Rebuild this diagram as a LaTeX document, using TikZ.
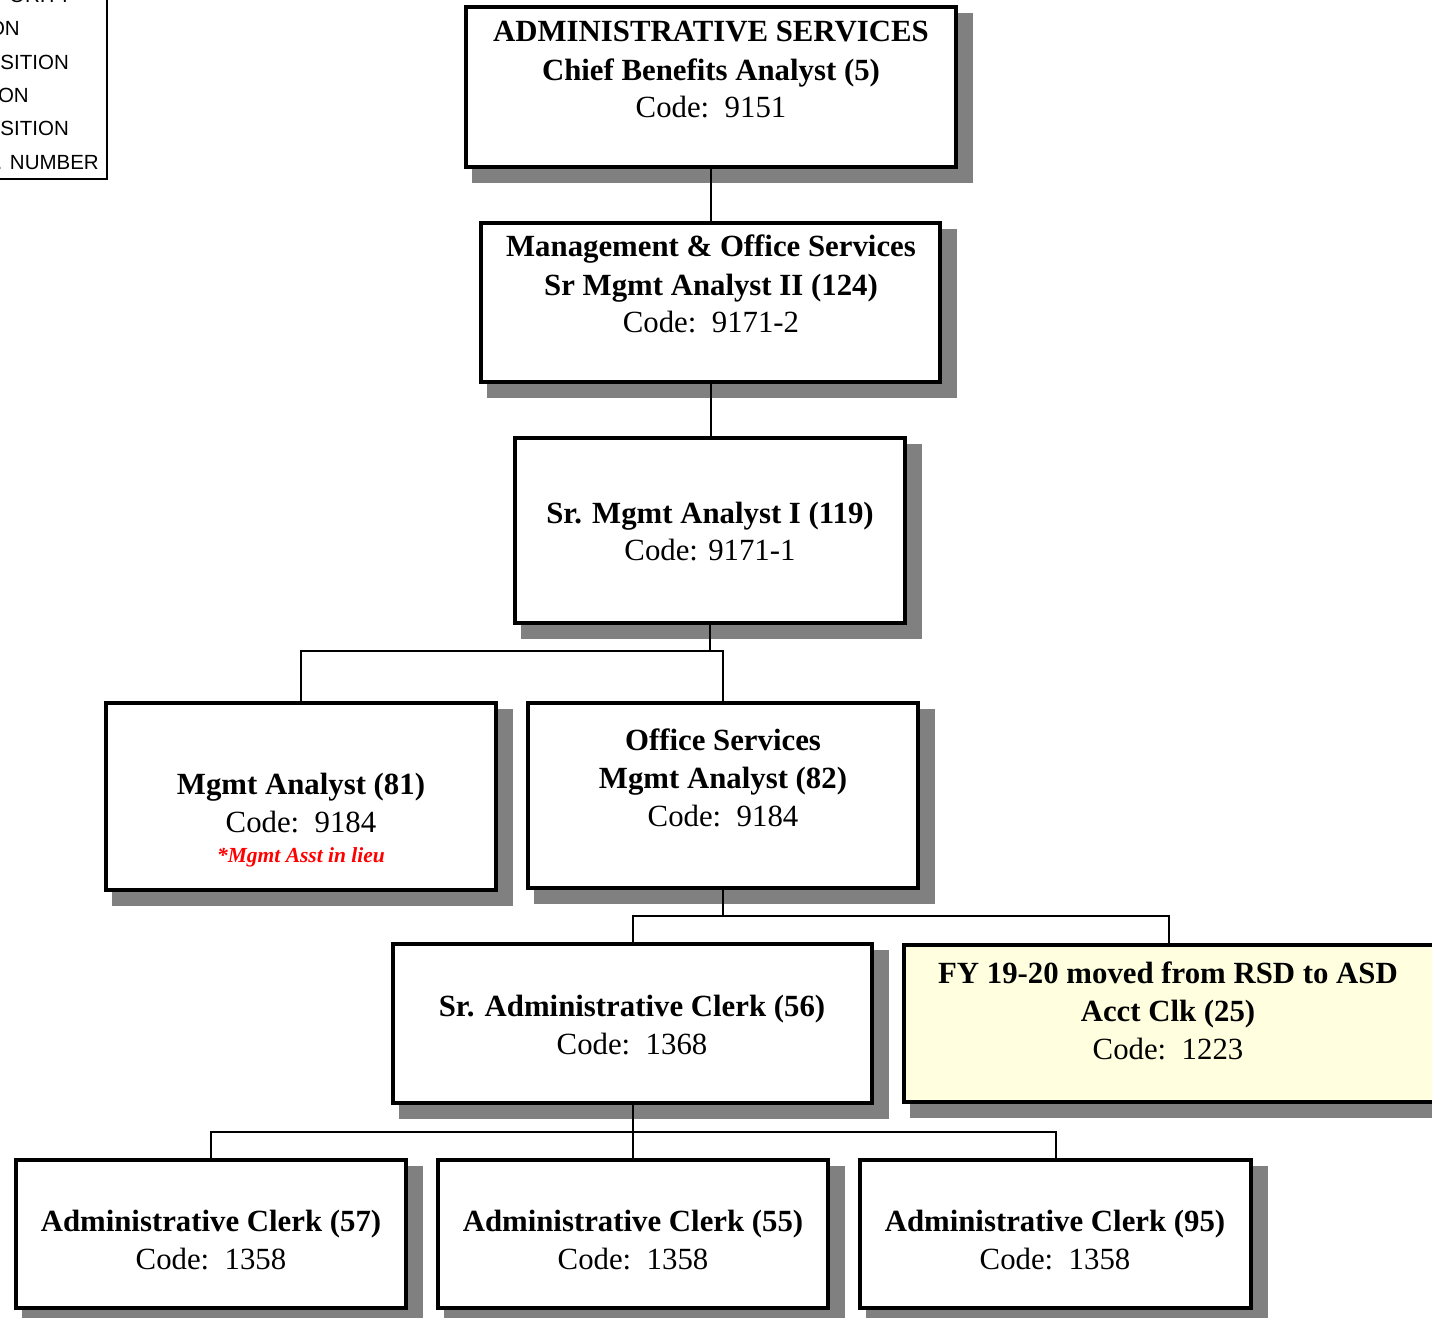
\documentclass[tikz,border=0pt]{standalone}
\usepackage{fontspec}
\setmainfont{Liberation Serif}
\newfontfamily\legendfont{Liberation Sans}
\usetikzlibrary{calc}
\pgfdeclarelayer{background}
\pgfsetlayers{background,main}
\definecolor{shadowgray}{HTML}{808080}
\definecolor{noteyellow}{HTML}{FFFFE0}
\definecolor{notered}{HTML}{FF0000}
\tikzset{
  orgbox/.style={draw=black, line width=4pt, fill=white, rectangle, inner sep=0pt},
  ln/.style={anchor=base, inner sep=0pt, font=\fontsize{30.8}{38}\selectfont},
  hd/.style={anchor=base, inner sep=0pt, font=\fontsize{30.8}{38}\selectfont\bfseries},
  note/.style={anchor=base, inner sep=0pt, text=notered, font=\fontsize{21.5}{26}\selectfont\bfseries\itshape},
  legend/.style={anchor=base east, inner sep=0pt, font=\legendfont\fontsize{20.5}{24}\selectfont},
  link/.style={draw=black, line width=2pt},
}
% drop shadow behind a box, drawn on the background layer
\newcommand\boxshadow[1]{%
  \begin{pgfonlayer}{background}
    \fill[shadowgray] ($(#1.north west)+(8,8)$) rectangle ($(#1.south east)+(15,14)$);
  \end{pgfonlayer}}
\begin{document}
\begin{tikzpicture}[x=1pt, y=-1pt]
\useasboundingbox (0,0) rectangle (1432,1317);
\clip (0,0) rectangle (1432,1317);

% legend (partly outside the page)
\draw[line width=2pt] (-60,-20) rectangle (107,179);
\node[legend] (lg1) at (72,2) {ORITY};
\node[legend] (lg2) at (20,35) {ON};
\node[legend] (lg3) at (69,69) {SITION};
\node[legend] (lg4) at (29,102) {ON};
\node[legend] (lg5) at (69,135) {SITION};
\node[legend] (lg6) at (99,169) {. NUMBER};

% boxes
\node[orgbox, minimum width=490pt, minimum height=160pt] (b1) at (711,87) {};
\node[orgbox, minimum width=459pt, minimum height=159pt] (b2) at (710.5,302.5) {};
\node[orgbox, minimum width=390pt, minimum height=185pt] (b3) at (710,530.5) {};
\node[orgbox, minimum width=390pt, minimum height=187pt] (b4) at (301,796.5) {};
\node[orgbox, minimum width=390pt, minimum height=185pt] (b5) at (723,795.5) {};
\node[orgbox, minimum width=479pt, minimum height=159pt] (b6) at (632.5,1023.5) {};
\node[orgbox, fill=noteyellow, minimum width=530pt, minimum height=157pt] (b7) at (1169,1023.5) {};
\node[orgbox, minimum width=390pt, minimum height=148pt] (b8) at (211,1234) {};
\node[orgbox, minimum width=390pt, minimum height=148pt] (b9) at (633,1234) {};
\node[orgbox, minimum width=391pt, minimum height=148pt] (b10) at (1055.5,1234) {};

\foreach \b in {b1,b2,b3,b4,b5,b6,b7,b8,b9,b10} {\boxshadow{\b}}

% connectors
\coordinate (r1) at (0,651);
\coordinate (r2) at (0,916);
\coordinate (r3) at (0,1132);
\draw[link] (b1.south) -- (b1.south |- b2.north);
\draw[link] (b2.south) -- (b2.south |- b3.north);
\draw[link] (b3.south) -- (b3.south |- r1);
\draw[link] (b4.north) |- (r1 -| b5.north) -- (b5.north);
\draw[link] (b5.south) -- (b5.south |- r2);
\draw[link] (b6.north) |- (r2 -| b7.north) -- (b7.north);
\draw[link] (b6.south) -- (b6.south |- b9.north);
\draw[link] (b8.north) |- (r3 -| b10.north) -- (b10.north);

% box texts
\node[hd] (t1a) at (711,41) {ADMINISTRATIVE SERVICES};
\node[hd] (t1b) at (711,80) {Chief Benefits Analyst (5)};
\node[ln] (t1c) at (711,117) {Code:~~9151};

\node[hd] (t2a) at (711,256) {Management \& Office Services};
\node[hd] (t2b) at (711,295) {Sr Mgmt Analyst II (124)};
\node[ln] (t2c) at (711,332) {Code:~~9171-2};

\node[hd] (t3a) at (710,523) {Sr. Mgmt Analyst I (119)};
\node[ln] (t3b) at (710,560) {Code: 9171-1};

\node[hd] (t4a) at (301,794) {Mgmt Analyst (81)};
\node[ln] (t4b) at (301,832) {Code:~~9184};
\node[note] (t4c) at (301,862) {*Mgmt Asst in lieu};

\node[hd] (t5a) at (723,750) {Office Services};
\node[hd] (t5b) at (723,788) {Mgmt Analyst (82)};
\node[ln] (t5c) at (723,826) {Code:~~9184};

\node[hd] (t6a) at (632,1016) {Sr. Administrative Clerk (56)};
\node[ln] (t6b) at (632,1054) {Code:~~1368};

\node[hd] (t7a) at (1168,983) {FY 19-20 moved from RSD to ASD};
\node[hd] (t7b) at (1168,1021) {Acct Clk (25)};
\node[ln] (t7c) at (1168,1059) {Code:~~1223};

\node[hd] (t8a) at (211,1231) {Administrative Clerk (57)};
\node[ln] (t8b) at (211,1269) {Code:~~1358};

\node[hd] (t9a) at (633,1231) {Administrative Clerk (55)};
\node[ln] (t9b) at (633,1269) {Code:~~1358};

\node[hd] (t10a) at (1055,1231) {Administrative Clerk (95)};
\node[ln] (t10b) at (1055,1269) {Code:~~1358};
\end{tikzpicture}
\end{document}
